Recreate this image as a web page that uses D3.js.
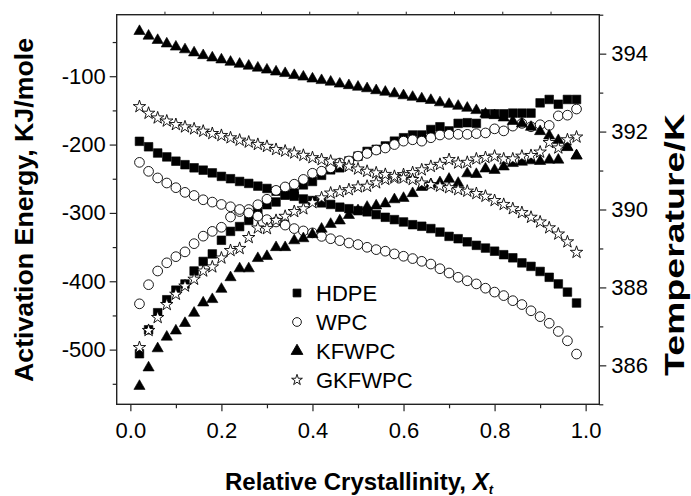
<!DOCTYPE html>
<html lang="en">
<head>
<meta charset="utf-8">
<title>Activation energy and temperature vs relative crystallinity</title>
<script src="https://cdn.jsdelivr.net/npm/d3@7"></script>
<style>
  body { margin: 0; background: #fff; }
  svg text { font-family: "Liberation Sans", Arial, sans-serif; fill: #000; }
</style>
</head>
<body>
<script>
// relative crystallinity (x)
var xt = [0.02,0.04,0.06,0.08,0.10,0.12,0.14,0.16,0.18,0.20,0.22,0.24,0.26,0.28,0.30,0.32,0.34,
          0.36,0.38,0.40,0.42,0.44,0.46,0.48,0.50,0.52,0.54,0.56,0.58,0.60,0.62,0.64,0.66,0.68,
          0.70,0.72,0.74,0.76,0.78,0.80,0.82,0.84,0.86,0.88,0.90,0.92,0.94,0.96,0.98];

// activation energy, KJ/mole (left axis)
var hdpeEa = [-506,-471,-446,-427,-413,-404,-385,-371,-360,-340,-327,-320,-311,-296,-288,-284,-274,
              -271,-259,-254,-245,-237,-234,-224,-217,-210,-207,-202,-195,-190,-186,-186,-178,-174,
              -180,-169,-168,-169,-155,-155,-155,-154,-154,-154,-139,-134,-141,-134,-134];
var wpcEa = [-433,-405,-385,-373,-364,-357,-345,-334,-327,-321,-306,-298,-295,-288,-280,-267,-262,
             -258,-251,-242,-239,-234,-227,-224,-217,-213,-208,-205,-200,-195,-193,-195,-190,-186,
             -185,-185,-185,-184,-183,-177,-180,-173,-169,-174,-171,-172,-158,-157,-148];
var kfwpcEa = [-552,-525,-497,-480,-471,-460,-445,-430,-425,-410,-393,-380,-380,-365,-362,-349,-349,
               -339,-336,-330,-322,-315,-310,-302,-295,-290,-288,-285,-279,-277,-270,-261,-257,-254,
               -249,-255,-241,-242,-234,-236,-231,-226,-224,-222,-223,-221,-221,-202,-215];
var gkfwpcEa = [-497,-472,-453,-434,-419,-407,-397,-385,-379,-366,-355,-352,-336,-322,-323,-311,-305,
                -298,-294,-285,-278,-271,-269,-266,-262,-261,-256,-251,-249,-244,-241,-237,-232,-229,
                -222,-227,-226,-221,-219,-217,-221,-221,-217,-216,-211,-197,-205,-193,-189];

// temperature, K (right axis)
var hdpeT = [391.75,391.61,391.45,391.35,391.24,391.15,391.07,391.01,390.94,390.85,390.79,390.72,390.67,
             390.60,390.54,390.47,390.38,390.34,390.27,390.23,390.17,390.13,390.06,390.02,389.97,389.94,
             389.87,389.80,389.74,389.68,389.61,389.57,389.51,389.42,389.31,389.25,389.17,389.08,389.01,
             388.93,388.84,388.76,388.63,388.54,388.41,388.26,388.09,387.88,387.60];
var wpcT = [391.21,390.98,390.81,390.68,390.56,390.44,390.36,390.25,390.19,390.13,390.07,390.00,389.91,
            389.83,389.74,389.68,389.60,389.51,389.45,389.40,389.31,389.25,389.20,389.14,389.10,389.03,
            388.97,388.93,388.86,388.80,388.74,388.67,388.60,388.48,388.37,388.26,388.17,388.09,387.98,
            387.88,387.79,387.66,387.56,387.40,387.25,387.08,386.87,386.63,386.29];
var kfwpcT = [394.60,394.48,394.37,394.28,394.20,394.13,394.05,393.98,393.92,393.87,393.81,393.76,393.71,
              393.66,393.61,393.56,393.52,393.47,393.43,393.38,393.34,393.30,393.25,393.21,393.17,393.13,
              393.08,393.04,393.00,392.95,392.91,392.87,392.83,392.77,392.73,392.68,392.63,392.57,392.48,
              392.44,392.38,392.29,392.23,392.14,392.03,391.92,391.80,391.62,391.41];
var gkfwpcT = [392.64,392.47,392.35,392.27,392.18,392.12,392.07,392.01,391.95,391.90,391.84,391.78,391.73,
               391.67,391.62,391.54,391.50,391.45,391.39,391.33,391.28,391.24,391.15,391.11,391.04,390.98,
               390.94,390.90,390.85,390.81,390.77,390.68,390.64,390.60,390.56,390.51,390.47,390.41,390.34,
               390.23,390.13,390.02,389.92,389.80,389.68,389.53,389.37,389.17,388.90];

var seriesNames = ["HDPE", "WPC", "KFWPC", "GKFWPC"];

// ticks
var xTicks = [0.0, 0.2, 0.4, 0.6, 0.8, 1.0];
var xMinor = [0.1, 0.3, 0.5, 0.7, 0.9];
var eaTicks = [-100, -200, -300, -400, -500];
var eaMinor = [-50, -150, -250, -350, -450, -550];
var tTicks = [386, 388, 390, 392, 394];
var tMinor = [385, 387, 389, 391, 393, 395];

var W = 691, H = 496;
// plot frame edges
var pL = 116.7, pR = 599.3, pT = 14.7, pB = 404.3;

var svg = d3.select("body").append("svg")
  .attr("width", W).attr("height", H);

var x = d3.scaleLinear().domain([-0.03, 1.03]).range([pL, pR]);
var yEa = d3.scaleLinear().domain([-580, -10]).range([pB, pT]);
var yT = d3.scaleLinear().domain([385, 395]).range([pB, pT]);

// marker shapes per series
var shapes = {
  HDPE:   { type: d3.symbolSquare,   size: 74, fill: "#000" },
  WPC:    { type: d3.symbolCircle,   size: 74, fill: "#fff" },
  KFWPC:  { type: d3.symbolTriangle, size: 54, fill: "#000" },
  GKFWPC: { type: d3.symbolStar,     size: 48, fill: "#fff" }
};

var groups = [
  { name: "HDPE",   ea: hdpeEa,   t: hdpeT },
  { name: "WPC",    ea: wpcEa,    t: wpcT },
  { name: "KFWPC",  ea: kfwpcEa,  t: kfwpcT },
  { name: "GKFWPC", ea: gkfwpcEa, t: gkfwpcT }
];

function drawPoints(name, vals, yScale) {
  var s = shapes[name];
  var sym = d3.symbol().type(s.type).size(s.size);
  svg.append("g").selectAll("path")
    .data(vals)
    .enter()
    .append("path")
    .attr("d", sym)
    .attr("transform", function(d, i) {
      var dy = s.type === d3.symbolTriangle ? 1 : 0;
      return "translate(" + x(xt[i]) + "," + (yScale(d) + dy) + ")";
    })
    .attr("fill", s.fill)
    .attr("stroke", "#000")
    .attr("stroke-width", s.fill === "#fff" ? 0.9 : 0.6);
}

groups.forEach(function(g) {
  drawPoints(g.name, g.ea, yEa);
  drawPoints(g.name, g.t, yT);
});

// frame
svg.append("rect")
  .attr("x", pL).attr("y", pT)
  .attr("width", pR - pL).attr("height", pB - pT)
  .attr("fill", "none").attr("stroke", "#222").attr("stroke-width", 1.4);

var fmt = function(d) { return String(d); };

// bottom axis
svg.append("g")
  .attr("transform", "translate(0," + pB + ")")
  .call(d3.axisBottom(x).tickValues(xTicks).tickSize(7).tickPadding(11)
        .tickFormat(function(d) { return d.toFixed(1); }));
svg.append("g")
  .attr("transform", "translate(0," + pB + ")")
  .call(d3.axisBottom(x).tickValues(xMinor).tickSize(4).tickFormat(""));

// top decorative ticks
var topTicks = d3.range(1, 10).map(function(i) { return pL + i * (pR - pL) / 10; });
svg.append("g").selectAll("line")
  .data(topTicks).enter().append("line")
  .attr("x1", function(d) { return d; }).attr("x2", function(d) { return d; })
  .attr("y1", pT).attr("y2", pT - 3)
  .attr("stroke", "#222").attr("stroke-width", 1);

// left axis
svg.append("g")
  .attr("transform", "translate(" + pL + ",0)")
  .call(d3.axisLeft(yEa).tickValues(eaTicks).tickSize(7).tickPadding(4).tickFormat(fmt));
svg.append("g")
  .attr("transform", "translate(" + pL + ",0)")
  .call(d3.axisLeft(yEa).tickValues(eaMinor).tickSize(4).tickFormat(""));

// right axis
svg.append("g")
  .attr("transform", "translate(" + pR + ",0)")
  .call(d3.axisRight(yT).tickValues(tTicks).tickSize(7).tickPadding(5).tickFormat(fmt));
svg.append("g")
  .attr("transform", "translate(" + pR + ",0)")
  .call(d3.axisRight(yT).tickValues(tMinor).tickSize(4).tickFormat(""));

svg.selectAll(".domain").remove();
svg.selectAll(".tick line").attr("stroke", "#222").attr("stroke-width", 1.2);
svg.selectAll(".tick text")
  .attr("font-size", "22px")
  .attr("font-family", "'Liberation Sans', Arial, sans-serif")
  .attr("fill", "#000");

// axis titles
svg.append("text")
  .attr("transform", "translate(33,210) rotate(-90)")
  .attr("text-anchor", "middle")
  .attr("font-size", "26px").attr("font-weight", "bold")
  .attr("textLength", 344).attr("lengthAdjust", "spacingAndGlyphs")
  .text("Activation Energy, KJ/mole");

svg.append("text")
  .attr("transform", "translate(684,245) rotate(-90)")
  .attr("text-anchor", "middle")
  .attr("font-size", "27px").attr("font-weight", "bold")
  .attr("textLength", 262).attr("lengthAdjust", "spacingAndGlyphs")
  .text("Temperature/K");

var xt1 = svg.append("text")
  .attr("x", 359).attr("y", 490)
  .attr("text-anchor", "middle")
  .attr("font-size", "24px").attr("font-weight", "bold");
xt1.append("tspan").text("Relative Crystallinity, ");
xt1.append("tspan").attr("font-style", "italic").text("X");
xt1.append("tspan").attr("font-style", "italic").attr("font-size", "13px")
  .attr("dy", 4).text("t");

// legend
var legend = svg.append("g");
seriesNames.forEach(function(name, i) {
  var s = shapes[name];
  var ly = 293 + i * 29;
  legend.append("path")
    .attr("d", d3.symbol().type(s.type).size(name === "GKFWPC" ? 36 : 60))
    .attr("transform", "translate(297," + ly + ")")
    .attr("fill", s.fill).attr("stroke", "#000").attr("stroke-width", 0.9);
  legend.append("text")
    .attr("x", 316).attr("y", ly + 8)
    .attr("font-size", "22px")
    .text(name);
});
</script>
</body>
</html>
